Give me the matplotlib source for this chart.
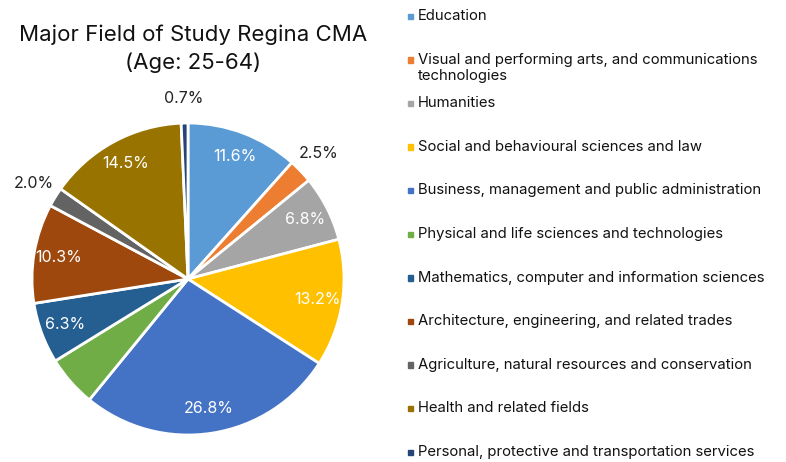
import matplotlib.pyplot as plt
from matplotlib.patches import Rectangle
import numpy as np

plt.rcParams['font.family'] = ['Inter', 'DejaVu Sans']

fields = [
    "Education",
    "Visual and performing arts, and communications\ntechnologies",
    "Humanities",
    "Social and behavioural sciences and law",
    "Business, management and public administration",
    "Physical and life sciences and technologies",
    "Mathematics, computer and information sciences",
    "Architecture, engineering, and related trades",
    "Agriculture, natural resources and conservation",
    "Health and related fields",
    "Personal, protective and transportation services",
]
shares = [11.6, 2.5, 6.8, 13.2, 26.8, 5.3, 6.3, 10.3, 2.0, 14.5, 0.7]
pct_labels = ["11.6%", "2.5%", "6.8%", "13.2%", "26.8%", "", "6.3%", "10.3%", "2.0%", "14.5%", "0.7%"]
colors = ["#5B9BD5", "#ED7D31", "#A5A5A5", "#FFC000", "#4472C4", "#70AD47",
          "#255E91", "#9E480E", "#636363", "#997300", "#264478"]
outside = [False, True, False, False, False, False, False, False, True, False, True]

fig = plt.figure(figsize=(7.86, 4.62), dpi=100)
ax = fig.add_axes([32 / 786, 27 / 462, 312 / 786, 312 / 462])

wedges, _ = ax.pie(shares, colors=colors, startangle=90, counterclock=False,
                   wedgeprops=dict(edgecolor="white", linewidth=2))
ax.set_xlim(-1, 1)
ax.set_ylim(-1, 1)
ax.set_aspect("equal")

for w, lab, out in zip(wedges, pct_labels, outside):
    if not lab:
        continue
    ang = np.deg2rad((w.theta1 + w.theta2) / 2)
    r = 1.16 if out else 0.84
    ax.text(r * np.cos(ang), r * np.sin(ang), lab, ha="center", va="center",
            fontsize=11.5, color="#222222" if out else "white")

fig.text(193 / 786, 1 - 35 / 462, "Major Field of Study Regina CMA", ha="center",
         va="center", fontsize=16, color="#111111")
fig.text(193 / 786, 1 - 63 / 462, "(Age: 25-64)", ha="center",
         va="center", fontsize=16, color="#111111")

# legend on the right
step = 43.6
for i, (name, c) in enumerate(zip(fields, colors)):
    y = 16 + i * step
    fig.patches.append(Rectangle((407.5 / 786, 1 - (y + 3) / 462), 5.5 / 786, 5.5 / 462,
                                 transform=fig.transFigure, color=c))
    fig.text(418 / 786, 1 - (y - 7) / 462, name, ha="left", va="top",
             fontsize=10.7, color="#111111", linespacing=1.2)

fig.savefig("out.png", dpi=100)
